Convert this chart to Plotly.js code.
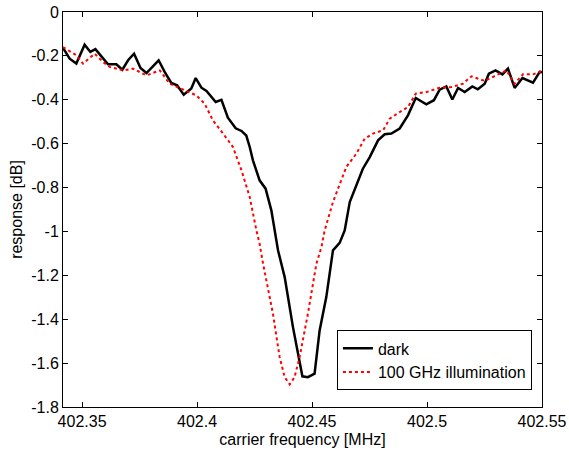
<!DOCTYPE html>
<html>
<head>
<meta charset="utf-8">
<script src="https://cdn.plot.ly/plotly-3.0.1.min.js"></script>
<style>html,body{margin:0;padding:0;background:#fff;}#chart{width:569px;height:452px;}</style>
</head>
<body>
<div id="chart"></div>
<script>
// dark (no illumination)
var darkFreq = [402.3417,402.3446,402.3475,402.3511,402.3536,402.3558,402.3584,402.3613,402.3649,402.3675,402.3700,402.3726,402.3754,402.3780,402.3808,402.3833,402.3859,402.3888,402.3913,402.3942,402.3975,402.3994,402.4019,402.4041,402.4081,402.4106,402.4134,402.4168,402.4193,402.4214,402.4229,402.4243,402.4272,402.4298,402.4323,402.4352,402.4381,402.4417,402.4458,402.4482,402.4511,402.4533,402.4562,402.4591,402.4620,402.4642,402.4664,402.4721,402.4751,402.4787,402.4816,402.4845,402.4881,402.4917,402.4951,402.4997,402.5030,402.5055,402.5084,402.5110,402.5135,402.5164,402.5197,402.5221,402.5251,402.5269,402.5298,402.5328,402.5352,402.5381,402.5415,402.5461,402.5490,402.5500];
var darkResp = [-0.164,-0.213,-0.235,-0.149,-0.182,-0.169,-0.202,-0.238,-0.238,-0.263,-0.220,-0.190,-0.255,-0.278,-0.248,-0.220,-0.273,-0.323,-0.334,-0.377,-0.349,-0.301,-0.345,-0.360,-0.410,-0.400,-0.482,-0.530,-0.542,-0.563,-0.615,-0.676,-0.767,-0.805,-0.904,-1.086,-1.208,-1.436,-1.660,-1.664,-1.648,-1.451,-1.299,-1.086,-1.052,-0.995,-0.866,-0.714,-0.661,-0.585,-0.557,-0.554,-0.531,-0.471,-0.392,-0.421,-0.402,-0.354,-0.339,-0.399,-0.346,-0.365,-0.339,-0.352,-0.327,-0.281,-0.266,-0.284,-0.258,-0.346,-0.301,-0.322,-0.273,-0.275];
// 100 GHz illumination
var illumFreq = [402.3417,402.3475,402.3504,402.3526,402.3555,402.3591,402.3620,402.3678,402.3721,402.3780,402.3838,402.3881,402.3939,402.3997,402.4033,402.4069,402.4113,402.4156,402.4193,402.4229,402.4258,402.4272,402.4287,402.4330,402.4359,402.4381,402.4403,402.4424,402.4446,402.4482,402.4519,402.4541,402.4555,402.4591,402.4649,402.4693,402.4729,402.4765,402.4809,402.4838,402.4881,402.4917,402.4951,402.4997,402.5055,402.5106,402.5156,402.5193,402.5251,402.5301,402.5345,402.5381,402.5417,402.5461,402.5500];
var illumResp = [-0.160,-0.197,-0.235,-0.217,-0.190,-0.228,-0.250,-0.266,-0.258,-0.289,-0.266,-0.327,-0.354,-0.380,-0.418,-0.494,-0.554,-0.615,-0.721,-0.843,-0.995,-1.056,-1.147,-1.375,-1.572,-1.664,-1.697,-1.664,-1.572,-1.375,-1.147,-1.071,-0.995,-0.866,-0.706,-0.645,-0.577,-0.554,-0.539,-0.486,-0.456,-0.433,-0.372,-0.365,-0.345,-0.342,-0.327,-0.293,-0.314,-0.289,-0.266,-0.327,-0.284,-0.284,-0.269];
var xTickVals = [402.35,402.4,402.45,402.5,402.55];
var xTickText = ['402.35','402.4','402.45','402.5','402.55'];
var yTickVals = [0,-0.2,-0.4,-0.6,-0.8,-1,-1.2,-1.4,-1.6,-1.8];
var yTickText = ['0','-0.2','-0.4','-0.6','-0.8','-1','-1.2','-1.4','-1.6','-1.8'];

var traces = [
  {x: darkFreq, y: darkResp, type: 'scatter', mode: 'lines', name: 'dark',
   line: {color: '#000000', width: 2.5}},
  {x: illumFreq, y: illumResp, type: 'scatter', mode: 'lines', name: '100 GHz illumination',
   line: {color: '#ff0000', width: 2, dash: 'dot'}}
];
var fnt = {family: 'Liberation Sans, Arial, sans-serif', size: 16, color: '#000'};
var layout = {
  width: 569, height: 452,
  margin: {l: 63, r: 27, t: 12, b: 45, pad: 0},
  paper_bgcolor: '#fff', plot_bgcolor: '#fff',
  font: fnt,
  showlegend: true,
  xaxis: {
    range: [402.3417, 402.55], tickvals: xTickVals, ticktext: xTickText,
    ticks: 'inside', ticklen: 5, tickcolor: '#000', showgrid: false, zeroline: false,
    showline: true, linecolor: '#000', linewidth: 1, mirror: 'ticks',
    tickfont: fnt,
    title: {text: 'carrier frequency [MHz]', font: fnt, standoff: 4}
  },
  yaxis: {
    range: [-1.8, 0], tickvals: yTickVals, ticktext: yTickText,
    ticks: 'inside', ticklen: 5, tickcolor: '#000', showgrid: false, zeroline: false,
    showline: true, linecolor: '#000', linewidth: 1, mirror: 'ticks',
    tickfont: fnt,
    title: {text: 'response [dB]', font: fnt, standoff: 4}
  },
  legend: {
    x: 0.979, xanchor: 'right', y: 0.042, yanchor: 'bottom',
    bgcolor: '#fff', bordercolor: '#000', borderwidth: 1,
    font: fnt, itemwidth: 30, tracegroupgap: 0
  }
};
Plotly.newPlot('chart', traces, layout, {displayModeBar: false, staticPlot: true});
</script>
</body>
</html>
